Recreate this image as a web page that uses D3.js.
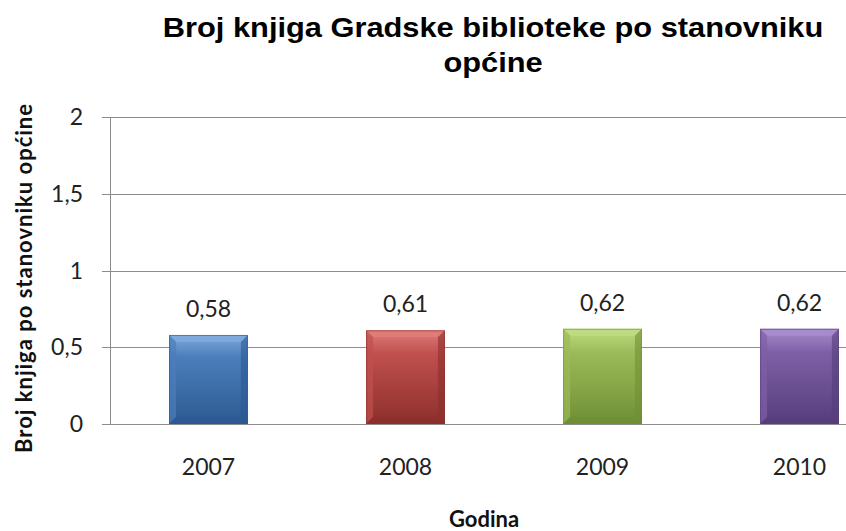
<!DOCTYPE html>
<html>
<head>
<meta charset="utf-8">
<script src="https://cdn.jsdelivr.net/npm/d3@7"></script>
<style>
  body { margin: 0; background: #fff; }
  svg { display: block; }
</style>
</head>
<body>
<div id="chart"></div>
<script>
const years = ["2007", "2008", "2009", "2010"];
const values = [0.58, 0.61, 0.62, 0.62];
const valueLabels = ["0,58", "0,61", "0,62", "0,62"];
const yTicks = [0, 0.5, 1, 1.5, 2];
const yTickLabels = ["0", "0,5", "1", "1,5", "2"];
const barColors = [
  { base: "#4a7ebb", light: "#7fa9dc", dark: "#2c5a92" },
  { base: "#c0504d", light: "#e07c79", dark: "#8c2f2c" },
  { base: "#9bbb59", light: "#c0dc82", dark: "#6f8f34" },
  { base: "#7e5fa6", light: "#a88ccc", dark: "#563d7c" }
];

const w = 846, h = 531;
const plotLeft = 110, plotTop = 117, plotBottom = 424;
const band = 197;

const svg = d3.select("#chart").append("svg").attr("width", w).attr("height", h);

const x = d3.scaleBand().domain(years).range([plotLeft, plotLeft + band * years.length]).paddingInner(0.6).paddingOuter(0.3);
const y = d3.scaleLinear().domain([0, 2]).range([plotBottom, plotTop]);

const font = "Lato, 'Open Sans', sans-serif";

// gridlines
svg.append("g").selectAll("line").data(yTicks).enter().append("line")
  .attr("x1", plotLeft - 8).attr("x2", w)
  .attr("y1", d => Math.round(y(d)) + 0.5).attr("y2", d => Math.round(y(d)) + 0.5)
  .attr("stroke", "#8c8c8c").attr("stroke-width", 1);

// axis line
svg.append("line").attr("x1", plotLeft + 0.5).attr("x2", plotLeft + 0.5)
  .attr("y1", y(2)).attr("y2", y(0)).attr("stroke", "#8c8c8c");

// y tick labels
svg.append("g").selectAll("text").data(yTicks).enter().append("text")
  .attr("x", 83).attr("y", d => y(d) + 8)
  .attr("text-anchor", "end").attr("font-family", font).attr("font-size", 23)
  .attr("fill", "#222").text((d, i) => yTickLabels[i]);

// gradients
const defs = svg.append("defs");
barColors.forEach((c, i) => {
  const g = defs.append("linearGradient").attr("id", "bg" + i)
    .attr("x1", 0).attr("x2", 0).attr("y1", 0).attr("y2", 1);
  g.append("stop").attr("offset", "0%").attr("stop-color", c.light);
  g.append("stop").attr("offset", "25%").attr("stop-color", c.base);
  g.append("stop").attr("offset", "100%").attr("stop-color", c.dark);
});

// bars with bevel
const bev = 7;
const bars = svg.append("g").selectAll("g").data(years).enter().append("g");
bars.each(function (d, i) {
  const g = d3.select(this);
  const x0 = x(d), x1 = x(d) + x.bandwidth();
  const y0 = y(values[i]), y1 = y(0);
  const c = barColors[i];
  g.append("rect").attr("x", x0).attr("y", y0).attr("width", x1 - x0).attr("height", y1 - y0)
    .attr("fill", "url(#bg" + i + ")");
  // top bevel
  g.append("polygon").attr("points", [[x0, y0], [x1, y0], [x1 - bev, y0 + bev], [x0 + bev, y0 + bev]].join(" "))
    .attr("fill", c.light).attr("opacity", 0.9);
  // left bevel
  g.append("polygon").attr("points", [[x0, y0], [x0 + bev, y0 + bev], [x0 + bev, y1 - bev], [x0, y1]].join(" "))
    .attr("fill", c.base).attr("opacity", 0.7);
  // right bevel
  g.append("polygon").attr("points", [[x1, y0], [x1 - bev, y0 + bev], [x1 - bev, y1 - bev], [x1, y1]].join(" "))
    .attr("fill", c.dark).attr("opacity", 0.6);
  // bottom bevel
  g.append("polygon").attr("points", [[x0, y1], [x0 + bev, y1 - bev], [x1 - bev, y1 - bev], [x1, y1]].join(" "))
    .attr("fill", c.dark).attr("opacity", 0.8);
  g.append("rect").attr("x", x0 + 0.5).attr("y", y0 + 0.5).attr("width", x1 - x0 - 1).attr("height", y1 - y0 - 1)
    .attr("fill", "none").attr("stroke", c.dark).attr("stroke-width", 1).attr("opacity", 0.6);
});

// value labels
svg.append("g").selectAll("text").data(years).enter().append("text")
  .attr("x", d => x(d) + x.bandwidth() / 2).attr("y", (d, i) => y(values[i]) - 18)
  .attr("text-anchor", "middle").attr("font-family", font).attr("font-size", 23)
  .attr("fill", "#222").text((d, i) => valueLabels[i]);

// x labels
svg.append("g").selectAll("text").data(years).enter().append("text")
  .attr("x", d => x(d) + x.bandwidth() / 2).attr("y", 475)
  .attr("text-anchor", "middle").attr("font-family", font).attr("font-size", 23)
  .attr("fill", "#222").text(d => d);

// axis titles
svg.append("text").attr("x", 484).attr("y", 527).attr("text-anchor", "middle")
  .attr("font-family", font).attr("font-size", 22).attr("font-weight", "bold")
  .attr("fill", "#111").text("Godina");

svg.append("text").attr("transform", "translate(32,278) rotate(-90)").attr("text-anchor", "middle")
  .attr("font-family", font).attr("font-size", 22).attr("font-weight", "bold")
  .attr("letter-spacing", 1)
  .attr("fill", "#111").text("Broj knjiga po stanovniku općine");

// title
const title = svg.append("text").attr("text-anchor", "middle")
  .attr("transform", "translate(493,0) scale(1.1,1)")
  .attr("font-family", "'Liberation Sans', Arial, sans-serif").attr("font-size", 28).attr("font-weight", "bold")
  .attr("fill", "#000");
title.append("tspan").attr("x", 0).attr("y", 37).text("Broj knjiga Gradske biblioteke po stanovniku");
title.append("tspan").attr("x", 0).attr("y", 72).text("općine");
</script>
</body>
</html>
